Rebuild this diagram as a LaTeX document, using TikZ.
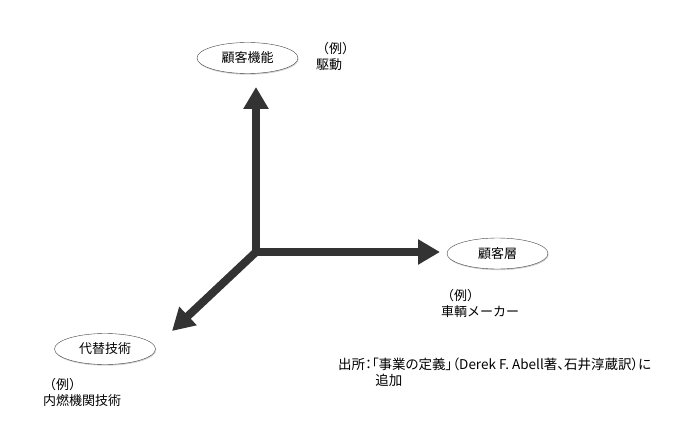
\documentclass[tikz,border=0pt]{standalone}
\usepackage{fontspec}
\setmainfont{Noto Sans CJK JP}
\newfontfamily\paltfont[RawFeature=+palt]{Noto Sans CJK JP}
\usepackage{tikz}
\usetikzlibrary{arrows.meta,shadows,shapes.geometric}

\tikzset{
  axisarrow/.style={line width=8pt,draw=black!80,-{Triangle[length=22pt,width=24pt]}},
  axisnode/.style={ellipse,draw=black!75,fill=white,minimum width=101pt,minimum height=31pt,inner sep=0pt,
    drop shadow={shadow xshift=0.6pt,shadow yshift=-1.2pt,opacity=0.35},font=\fontsize{13}{15}\selectfont},
  example/.style={align=left,anchor=north west,inner sep=0pt,font=\fontsize{13}{16}\selectfont},
}

\begin{document}
\begin{tikzpicture}[x=1pt,y=-1pt]
			\useasboundingbox (0,0) rectangle (681,428);
			% Axes
			\coordinate (origin) at (256,252);
			\coordinate (uptip) at (256,87);
			\coordinate (righttip) at (440,252);
			\coordinate (downtip) at (172,331);
			\draw[axisarrow] (origin) -- (uptip);
			\draw[axisarrow] (origin) -- (righttip);
			\draw[axisarrow] (origin) -- (downtip);
			\fill[black!80] (252,248) rectangle (260,256);
			
			% Ellipses
			\node[axisnode] (function) at (247.5,58) {顧客機能};
			\node[axisnode] (customer) at (497.5,253.5) {顧客層};
			\node[axisnode] (technology) at (105,349) {代替技術};
			
			% Examples
			\node[example] (functionex) at (316,42) {（例）\\駆動};
			\node[example] (customerex) at (441,289) {（例）\\車輌メーカー};
			\node[example] (technologyex) at (43,378) {（例）\\内燃機関技術};
			
			% Source
			\node[example,font=\paltfont\fontsize{13.5}{16}\selectfont] (source) at (338,358)
				{出所：「事業の定義」（Derek F. Abell著、石井淳蔵訳）に\\\hspace*{2.75em}追加};
		\end{tikzpicture}
\end{document}
